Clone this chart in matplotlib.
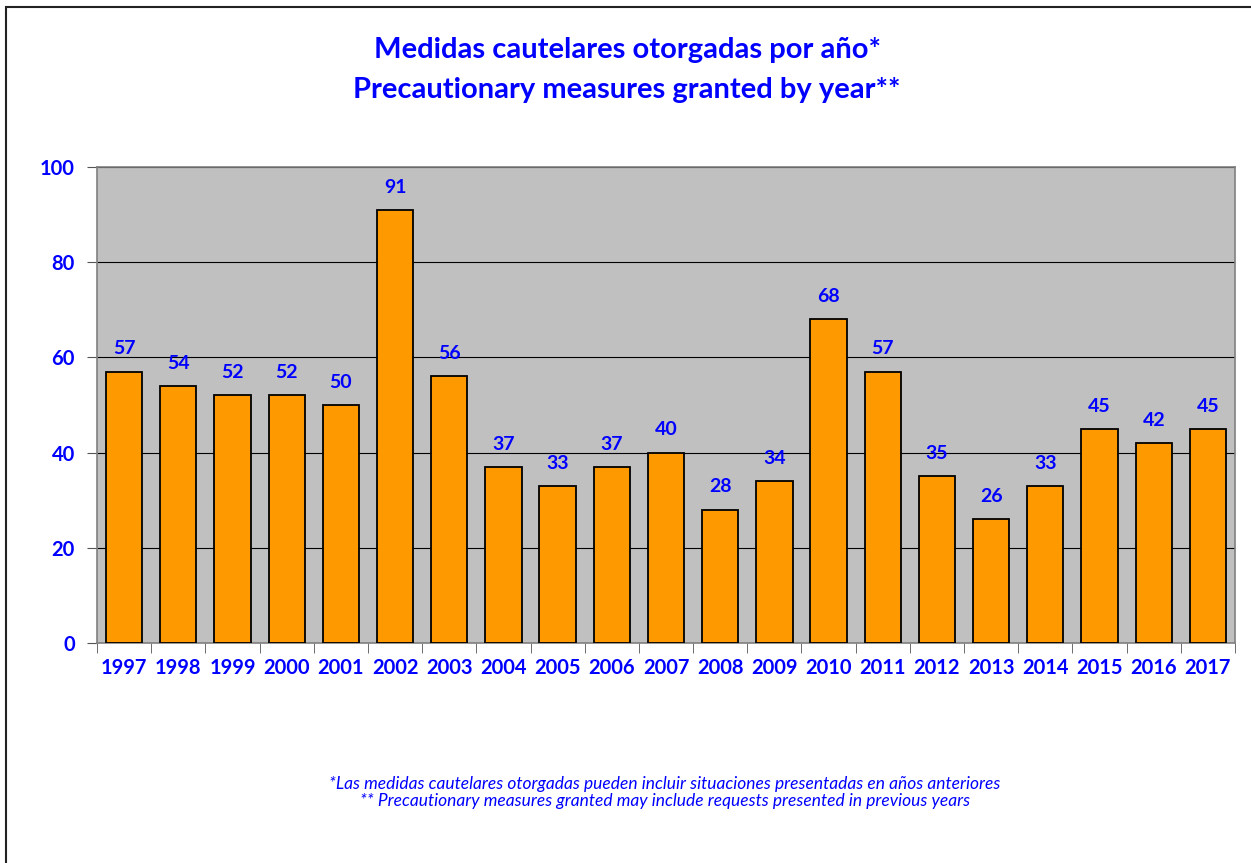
import numpy as np
import matplotlib.pyplot as plt
from matplotlib.patches import Rectangle

years = [str(y) for y in range(1997, 2018)]
values = [57, 54, 52, 52, 50, 91, 56, 37, 33, 37, 40, 28, 34, 68, 57, 35, 26, 33, 45, 42, 45]

title_es = "Medidas cautelares otorgadas por año*"
title_en = "Precautionary measures granted by year**"
note_es = "*Las medidas cautelares otorgadas pueden incluir situaciones presentadas en años anteriores"
note_en = "** Precautionary measures granted may include requests presented in previous years"

BLUE = "#0000FF"
plt.rcParams['font.family'] = ['Lato', 'DejaVu Sans']

fig = plt.figure(figsize=(12.51, 8.63), dpi=100)
ax = fig.add_axes([97 / 1251, 1 - 643 / 863, 1138 / 1251, (643 - 167) / 863])

x = np.arange(len(years))
ax.set_facecolor("#C0C0C0")
ax.bar(x, values, width=0.67, color="#FF9900", edgecolor="black", linewidth=1.3, zorder=3)

for xi, v in zip(x, values):
    ax.text(xi, v + 3, str(v), ha="center", va="bottom", color=BLUE,
            fontsize=14, fontweight="bold")

ax.set_xlim(-0.5, len(years) - 0.5)
ax.set_ylim(0, 100)
ax.set_yticks([0, 20, 40, 60, 80, 100])
ax.yaxis.grid(True, color="black", linewidth=0.8, zorder=1)
ax.set_axisbelow(True)

ax.set_xticks(x)
ax.set_xticklabels(years)
ax.set_xticks(np.arange(-0.5, len(years)), minor=True)
ax.tick_params(axis="x", which="major", length=0, pad=11)
ax.tick_params(axis="x", which="minor", length=7, color="#555555")
ax.tick_params(axis="y", length=7, color="#555555", pad=9)
for lab in ax.get_xticklabels() + ax.get_yticklabels():
    lab.set_color(BLUE)
    lab.set_fontweight("bold")
    lab.set_fontsize(14.5)

for s in ax.spines.values():
    s.set_color("#808080")
    s.set_linewidth(1.2)

fig.text(627 / 1251, 1 - 50 / 863, title_es, ha="center", va="center",
         color=BLUE, fontsize=21, fontweight="bold")
fig.text(627 / 1251, 1 - 90 / 863, title_en, ha="center", va="center",
         color=BLUE, fontsize=21, fontweight="bold")

fig.text(665 / 1251, 1 - 784 / 863, note_es, ha="center", va="center",
         color=BLUE, fontsize=12.5, style="italic")
fig.text(665 / 1251, 1 - 801 / 863, note_en, ha="center", va="center",
         color=BLUE, fontsize=12.5, style="italic")

# outer chart border (left and top edges visible)
fig.patches.append(Rectangle((6 / 1251, -0.01), 1.0, 1.01 - 7 / 863,
                             transform=fig.transFigure, fill=False,
                             edgecolor="#222222", linewidth=1.5))

fig.savefig("out.png", dpi=100)
